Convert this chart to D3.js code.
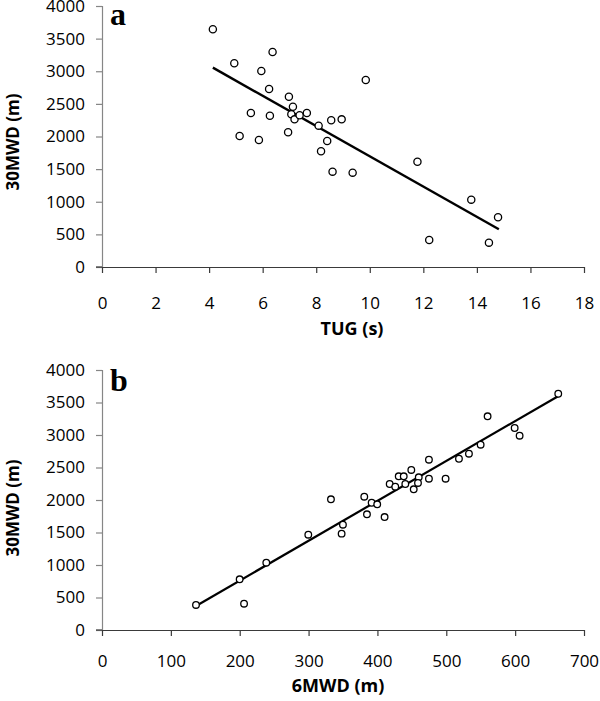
<!DOCTYPE html>
<html><head><meta charset="utf-8">
<script src="https://cdn.jsdelivr.net/npm/d3@7"></script>
<style>body{margin:0;background:#fff}svg{display:block}</style>
</head><body>
<script>
// Panel a: TUG (s) vs 30MWD (m)
const tugX = [4.14,6.37,4.94,5.95,6.24,6.98,7.13,5.56,6.27,7.07,7.19,7.38,7.65,8.09,8.56,8.95,5.14,5.86,6.95,8.41,8.18,8.61,9.85,9.36,11.78,13.79,14.79,12.22,14.45];
const tugY = [3643,3295,3122,3004,2728,2610,2457,2360,2319,2340,2263,2325,2360,2166,2248,2263,2008,1946,2064,1931,1773,1461,2866,1446,1614,1032,762,414,373];
const trendAX = [4.14,14.82];
const trendAY = [3055,578];
// Panel b: 6MWD (m) vs 30MWD (m)
const sixX = [136.5,206.3,199.9,238.6,299.6,332.5,349.9,348,380.9,391.6,399.7,384.8,410.4,417.8,425.9,430.9,438.2,440.5,449.2,460,458.9,452.7,474.8,474.8,499,518.4,532.9,549.9,560,599.3,606.5,662.6];
const sixY = [385,405,780,1035,1466,2011,1620,1482,2051,1958,1934,1780,1738,2246,2205,2365,2365,2246,2462,2349,2262,2165,2620,2328,2328,2635,2712,2851,3288,3108,2989,3635];
const trendBX = [136.5,663];
const trendBY = [370,3600];
const ticksA_X = [0,2,4,6,8,10,12,14,16,18];
const ticksB_X = [0,100,200,300,400,500,600,700];
const ticksY = [0,500,1000,1500,2000,2500,3000,3500,4000];

const svg = d3.select("body").append("svg").attr("width",600).attr("height",701);
const tickFont = "'Open Sans', sans-serif";

function panel(o){
  const x = d3.scaleLinear().domain(o.xdom).range([102,584]);
  const y = d3.scaleLinear().domain([0,4000]).range([o.y0,o.y1]);
  const g = svg.append("g");
  const ya = g.append("g").attr("transform","translate(102,0)")
    .call(d3.axisLeft(y).tickValues(ticksY).tickSize(6).tickPadding(11).tickFormat(d3.format("d")));
  ya.select(".domain").attr("stroke","#868686").attr("stroke-width",1.2);
  ya.selectAll(".tick line").attr("stroke","#868686").attr("stroke-width",1.2);
  ya.selectAll("text").attr("font-family",tickFont).attr("font-size",17).attr("fill","#000");
  const xa = g.append("g").attr("transform",`translate(0,${o.y0})`)
    .call(d3.axisBottom(x).tickValues(o.xticks).tickSize(6).tickSizeOuter(0).tickFormat(d3.format("d")));
  xa.select(".domain").attr("stroke","#3a3a3a").attr("stroke-width",1.2);
  xa.selectAll(".tick line").attr("stroke","#3a3a3a").attr("stroke-width",1.2);
  xa.selectAll("text").attr("font-family",tickFont).attr("font-size",17).attr("fill","#000")
    .attr("y",o.labY).attr("dy","0.36em");
  g.append("line").attr("x1",96).attr("x2",102).attr("y1",o.y0).attr("y2",o.y0).attr("stroke","#3a3a3a").attr("stroke-width",1.2);
  g.append("line")
    .attr("x1",x(o.tx[0])).attr("y1",y(o.ty[0]))
    .attr("x2",x(o.tx[1])).attr("y2",y(o.ty[1]))
    .attr("stroke","#000").attr("stroke-width",o.lw);
  g.selectAll("circle.pt").data(o.xs.map((v,i)=>[v,o.ys[i]])).join("circle")
    .attr("cx",d=>x(d[0])).attr("cy",d=>y(d[1])).attr("r",o.r)
    .attr("fill","#fff").attr("stroke","#000").attr("stroke-width",1.3);
  g.append("text").attr("x",o.titleX).attr("y",o.y0+o.titleY).attr("dy","0.36em")
    .attr("text-anchor","middle").attr("font-family",tickFont).attr("font-weight","bold")
    .attr("font-size",18).text(o.xtitle);
  g.append("text").attr("transform",`translate(13,${o.ytitleY}) rotate(-90)`).attr("dy","0.36em")
    .attr("text-anchor","middle").attr("font-family",tickFont).attr("font-weight","bold")
    .attr("font-size",17).text("30MWD (m)");
  g.append("text").attr("x",110).attr("y",o.letterY).attr("font-family","'Liberation Serif', serif")
    .attr("font-weight","bold").attr("font-size",32).text(o.letter);
}

panel({xdom:[0,18],y0:267,y1:6,xticks:ticksA_X,labY:36,titleX:352,titleY:62,ytitleY:142,
  xs:tugX,ys:tugY,tx:trendAX,ty:trendAY,r:3.6,lw:2.4,xtitle:"TUG (s)",letter:"a",letterY:25});
panel({xdom:[0,700],y0:630,y1:370,xticks:ticksB_X,labY:31,titleX:338,titleY:56,ytitleY:508,
  xs:sixX,ys:sixY,tx:trendBX,ty:trendBY,r:3.3,lw:2.2,xtitle:"6MWD (m)",letter:"b",letterY:391});
</script>
</body></html>
